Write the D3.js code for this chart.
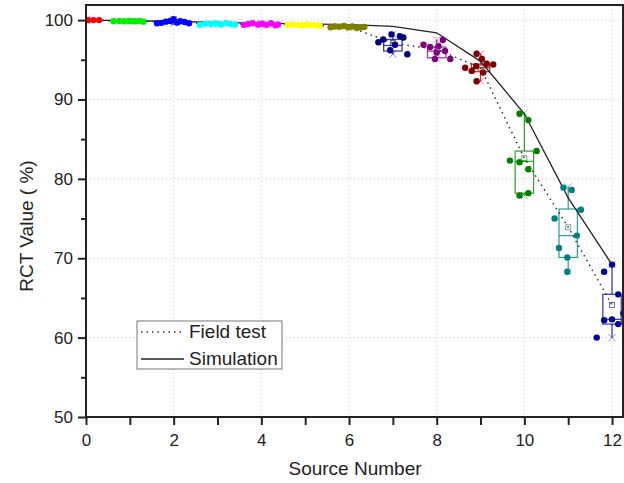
<!DOCTYPE html>
<html>
<head>
<meta charset="utf-8">
<script src="https://cdn.jsdelivr.net/npm/d3@7"></script>
<style>
  body { margin: 0; background: #fff; }
  text { font-family: Arial, "Liberation Sans", sans-serif; fill: #222; }
</style>
</head>
<body>
<svg id="chart" width="624" height="483"></svg>
<script>

// source numbers and the colour used for each one
var sources = [0, 1, 2, 3, 4, 5, 6, 7, 8, 9, 10, 11, 12],
    colors = ["#ff0000", "#00ee00", "#0000ff", "#00ffff", "#ff00ff", "#ffff00", "#808000",
              "#000080", "#800080", "#800000", "#008000", "#008080", "#0000a0"];

// field test measurements, [source position, RCT value]
var pts0 = [[-0.3, 100], [-0.18, 100], [-0.06, 100], [0.05, 100], [0.17, 100], [0.3, 100]],
    pts1 = [[-0.37, 99.85], [-0.24, 99.9], [-0.13, 99.85], [0, 99.9], [0.12, 99.85], [0.22, 99.9], [0.31, 99.8]],
    pts2 = [[-0.38, 99.6], [-0.28, 99.65], [-0.18, 99.8], [-0.08, 99.9], [0, 100.1], [0.08, 99.7], [0.15, 99.85], [0.25, 99.75], [0.35, 99.6]],
    pts3 = [[-0.4, 99.4], [-0.28, 99.55], [-0.15, 99.5], [-0.05, 99.6], [0.08, 99.45], [0.2, 99.6], [0.3, 99.5], [0.4, 99.45]],
    pts4 = [[-0.4, 99.4], [-0.3, 99.5], [-0.2, 99.6], [-0.08, 99.45], [0.02, 99.55], [0.12, 99.4], [0.22, 99.6], [0.32, 99.35], [0.38, 99.45]],
    pts5 = [[-0.4, 99.4], [-0.3, 99.45], [-0.18, 99.4], [-0.08, 99.35], [0.05, 99.45], [0.15, 99.4], [0.25, 99.35], [0.33, 99.3]],
    pts6 = [[-0.42, 99.1], [-0.32, 99.2], [-0.22, 99.15], [-0.12, 99.25], [-0.02, 99.1], [0.08, 99.2], [0.18, 99.0], [0.28, 99.1], [0.35, 99.15]],
    pts7 = [[-0.33, 97.2], [-0.22, 97.56], [-0.03, 98.2], [0.05, 96.9], [0.16, 97.98], [0.24, 97.8], [-0.06, 96.2], [0.33, 95.7]],
    pts8 = [[-0.3, 96.9], [-0.15, 96.6], [0.14, 97.5], [0.04, 96.7], [0.19, 96.1], [-0.04, 95.1], [0.31, 95.1], [0, 95.9]],
    pts9 = [[-0.09, 95.76], [0.03, 95.1], [-0.35, 94.0], [0.14, 94.5], [0.29, 94.4], [-0.09, 92.3], [0.06, 93.4], [-0.2, 93.6], [-0.1, 94.2]],
    pts10 = [[-0.11, 88.2], [0.09, 87.4], [0.28, 83.5], [-0.33, 82.3], [-0.11, 82.1], [0.09, 81.2], [-0.11, 77.9], [0.09, 78.2]],
    pts11 = [[-0.11, 78.9], [0.08, 78.6], [0.29, 76.1], [-0.31, 75.0], [0.2, 72.85], [-0.21, 71.3], [-0.02, 70.1], [-0.02, 68.3]],
    pts12 = [[0, 69.2], [-0.18, 68.3], [0.14, 65.45], [0.26, 63.05], [-0.18, 62.2], [0, 62.3], [0.14, 61.7], [-0.35, 60.0]];
var points = [pts0, pts1, pts2, pts3, pts4, pts5, pts6, pts7, pts8, pts9, pts10, pts11, pts12];

// box statistics
var q1 =        [100, 99.85, 99.65, 99.45, 99.4, 99.35, 99.1, 96.1, 95.25, 93.5, 78.2, 70.1, 61.7],
    medians =   [100, 99.85, 99.75, 99.5, 99.45, 99.4, 99.15, 96.8, 96.1, 94.0, 82.2, 72.85, 62.3],
    q3 =        [100, 99.9, 99.85, 99.55, 99.55, 99.45, 99.2, 97.56, 96.6, 94.45, 83.5, 76.2, 65.45],
    whiskerLo = [100, 99.8, 99.6, 99.4, 99.35, 99.3, 99.0, 95.7, 95.1, 92.3, 77.9, 68.3, 60.0],
    whiskerHi = [100, 99.9, 100.1, 99.6, 99.6, 99.45, 99.25, 98.2, 97.5, 95.76, 88.3, 79.0, 69.2],
    means =     [100, 99.86, 99.78, 99.51, 99.49, 99.39, 99.14, 97.1, 96.3, 94.0, 82.6, 73.9, 64.1];

// simulation result for each source
var simulation = [100, 99.92, 99.82, 99.7, 99.6, 99.52, 99.42, 99.2, 98.4, 94.8, 88.2, 77.6, 69.2];

var xTicks = [0, 2, 4, 6, 8, 10, 12],
    yTicks = [50, 60, 70, 80, 90, 100];

var plotLeft = 86, plotRight = 623, plotTop = 5, plotBottom = 417;

var svg = d3.select("#chart");

var x = d3.scaleLinear().domain([0, 12.25]).range([plotLeft, plotRight]);
var y = d3.scaleLinear().domain([50, 101.9]).range([plotBottom, plotTop]);

svg.append("defs").append("clipPath").attr("id", "plot")
    .append("rect")
    .attr("x", plotLeft).attr("y", plotTop)
    .attr("width", plotRight - plotLeft).attr("height", plotBottom - plotTop);

// grid
svg.append("g").selectAll("line")
    .data(xTicks.filter(function (d) { return d > 0; }))
    .enter().append("line")
    .attr("x1", function (d) { return x(d); }).attr("x2", function (d) { return x(d); })
    .attr("y1", plotTop).attr("y2", plotBottom)
    .attr("stroke", "#c8c8c8").attr("stroke-dasharray", "1,3");
svg.append("g").selectAll("line")
    .data(yTicks.filter(function (d) { return d > 50; }))
    .enter().append("line")
    .attr("x1", plotLeft).attr("x2", plotRight)
    .attr("y1", function (d) { return y(d); }).attr("y2", function (d) { return y(d); })
    .attr("stroke", "#c8c8c8").attr("stroke-dasharray", "1,3");

var plot = svg.append("g").attr("clip-path", "url(#plot)");

// box plots
var half = 0.21;
sources.forEach(function (s, i) {
    var g = plot.append("g")
        .attr("stroke", colors[i]).attr("stroke-opacity", 0.75)
        .attr("fill", "none").attr("stroke-width", 1.3);
    g.append("line")
        .attr("x1", x(s)).attr("x2", x(s))
        .attr("y1", y(whiskerHi[i])).attr("y2", y(q3[i]));
    g.append("line")
        .attr("x1", x(s)).attr("x2", x(s))
        .attr("y1", y(q1[i])).attr("y2", y(whiskerLo[i]));
    g.append("rect")
        .attr("x", x(s - half)).attr("width", x(s + half) - x(s - half))
        .attr("y", y(q3[i])).attr("height", y(q1[i]) - y(q3[i]));
    g.append("line")
        .attr("x1", x(s - half)).attr("x2", x(s + half))
        .attr("y1", y(medians[i])).attr("y2", y(medians[i]));
    g.append("rect")
        .attr("x", x(s) - 2.5).attr("y", y(means[i]) - 2.5)
        .attr("width", 5).attr("height", 5).attr("stroke-width", 0.8);
    // min / max crosses
    [whiskerLo[i], whiskerHi[i]].forEach(function (v) {
        g.append("path")
            .attr("d", "M" + (x(s) - 3.5) + "," + (y(v) - 3.5) + "l7,7M" + (x(s) + 3.5) + "," + (y(v) - 3.5) + "l-7,7")
            .attr("stroke-width", 0.9).attr("stroke-opacity", 0.5);
    });
});

var line = d3.line()
    .x(function (d) { return x(d[0]); })
    .y(function (d) { return y(d[1]); });

// field test means, dotted
plot.append("path")
    .datum(sources.map(function (s, i) { return [s, means[i]]; }))
    .attr("d", line)
    .attr("fill", "none").attr("stroke", "#333")
    .attr("stroke-width", 1.5).attr("stroke-dasharray", "1.5,4");

// simulation, solid
plot.append("path")
    .datum(sources.map(function (s, i) { return [s, simulation[i]]; }))
    .attr("d", line)
    .attr("fill", "none").attr("stroke", "#222").attr("stroke-width", 1.3);

// measured points
sources.forEach(function (s, i) {
    plot.append("g").selectAll("circle")
        .data(points[i])
        .enter().append("circle")
        .attr("cx", function (d) { return x(s + d[0]); })
        .attr("cy", function (d) { return y(d[1]); })
        .attr("r", 3.2)
        .attr("fill", colors[i]);
});

// axes
var xAxis = d3.axisBottom(x)
    .tickValues(d3.range(0, 13))
    .tickSize(8)
    .tickFormat(function (d) { return d % 2 === 0 ? d : ""; });
var gx = svg.append("g")
    .attr("transform", "translate(0," + plotBottom + ")")
    .call(xAxis);

var yAxis = d3.axisLeft(y)
    .tickValues(d3.range(50, 101, 5))
    .tickSize(8)
    .tickFormat(function (d) { return d % 10 === 0 ? d : ""; });
var gy = svg.append("g")
    .attr("transform", "translate(" + plotLeft + ",0)")
    .call(yAxis);

[gx, gy].forEach(function (g) {
    g.select(".domain").remove();
    g.selectAll(".tick line").attr("stroke", "#222").attr("stroke-width", 2);
    g.selectAll("text").style("font-size", "17px").attr("fill", "#222");
});
gx.selectAll("text").attr("dy", "1.05em");
gy.selectAll("text").attr("x", -13);
gy.selectAll(".tick").filter(function (d) { return d % 10 !== 0; })
    .select("line").attr("x2", -5);

// frame
svg.append("rect")
    .attr("x", plotLeft).attr("y", plotTop)
    .attr("width", plotRight - plotLeft).attr("height", plotBottom - plotTop)
    .attr("fill", "none").attr("stroke", "#222").attr("stroke-width", 2);

// titles
svg.append("text")
    .attr("x", 355).attr("y", 475)
    .attr("text-anchor", "middle")
    .style("font-size", "19px")
    .text("Source Number");
svg.append("text")
    .attr("transform", "translate(33,226) rotate(-90)")
    .attr("text-anchor", "middle")
    .style("font-size", "19px")
    .text("RCT Value ( %)");

// legend
var legend = svg.append("g");
legend.append("rect")
    .attr("x", 137).attr("y", 321).attr("width", 145).attr("height", 48)
    .attr("fill", "#fff").attr("stroke", "#777");
legend.append("line")
    .attr("x1", 141).attr("x2", 182).attr("y1", 332).attr("y2", 332)
    .attr("stroke", "#333").attr("stroke-width", 1.5).attr("stroke-dasharray", "1.5,4");
legend.append("line")
    .attr("x1", 141).attr("x2", 184).attr("y1", 359).attr("y2", 359)
    .attr("stroke", "#222").attr("stroke-width", 1.3);
legend.append("text").attr("x", 189).attr("y", 338).style("font-size", "19px").text("Field test");
legend.append("text").attr("x", 189).attr("y", 365).style("font-size", "19px").text("Simulation");

</script>
</body>
</html>
